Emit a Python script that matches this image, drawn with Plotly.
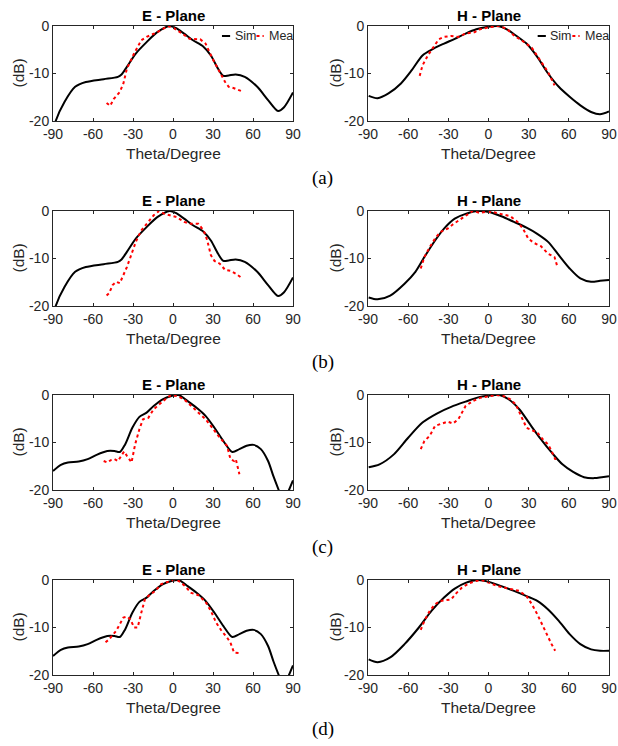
import plotly.graph_objects as go
from plotly.subplots import make_subplots

# ---------------- data ----------------
x_ticks = [-90, -60, -30, 0, 30, 60, 90]
x_tick_text = ["-90", "-60", "-30", "0", "30", "60", "90"]
y_ticks = [-20, -10, 0]
y_tick_text = ["-20", "-10", "0"]
row_labels = ["(a)", "(b)", "(c)", "(d)"]
col_titles = ["E - Plane", "H - Plane"]

# (a) E-plane
theta_sim_e_a = [-90, -88, -81.4, -73.4, -65.4, -52, -41.3, -38.6, -34.6, -27.9, -19.8, -11.8, -2.5, 2,
                 8.3, 15, 23, 28.4, 33.8, 37.8, 41.8, 47, 53.8, 63.2, 71.3, 78.8, 83.3, 90]
sim_e_a = [-22.5, -20, -16, -12.8, -11.8, -11.2, -10.7, -10.2, -8.6, -5.8, -3.4, -1.3, 0, -0.4,
           -1.6, -3.0, -4.4, -6.2, -9.0, -10.5, -10.4, -10.2, -10.7, -12.8, -15.6, -17.9, -17.1, -14.0]
theta_mea_e_a = [-49.8, -47.1, -44.5, -39.9, -37.2, -34.6, -29.2, -23.8, -19.8, -11.8, -3.75, 0.3, 7,
                 12.3, 20.4, 24.4, 29.7, 35.1, 39.1, 41.8, 45.8, 51.2]
mea_e_a = [-16.2, -16.8, -15.4, -13.9, -12.1, -9.0, -5.8, -3.0, -2.3, -1.3, 0, -0.4, -1.6,
           -2.7, -2.8, -3.7, -6.9, -9.7, -11.8, -12.8, -13.1, -13.7]

# (a) H-plane
theta_sim_h_a = [-89.5, -82.8, -74.7, -65.4, -57.3, -49.3, -41.3, -33.2, -25.2, -17.1, -9.1, -1.1, 7,
                 13.7, 20.4, 28.4, 36.4, 44.5, 52.5, 60.6, 68.6, 76.6, 83.3, 90]
sim_h_a = [-14.7, -15.2, -14.2, -12.1, -9.3, -6.2, -4.8, -3.7, -2.7, -1.6, -0.7, -0.2, 0,
           -0.7, -2.0, -3.7, -6.5, -10.0, -12.8, -14.9, -16.7, -18.1, -18.6, -18.0]
theta_mea_h_a = [-51.4, -49.3, -45.3, -41.3, -37.2, -33.2, -27.9, -22.5, -17.1, -10.4, -6.4, 1.6, 8.3,
                 13.7, 19, 25.7, 32.4, 37.8, 44.5, 49.3]
mea_h_a = [-10.5, -8.3, -6.2, -4.4, -2.8, -2.3, -2.1, -2.3, -1.6, -1.3, -0.7, -0.2, 0,
           -0.6, -2.0, -3.2, -4.6, -6.9, -9.7, -12.5]

# (b) E-plane
theta_sim_e_b = theta_sim_e_a
sim_e_b = sim_e_a
theta_mea_e_b = [-49.8, -47.9, -45.3, -42.6, -39.9, -37.2, -34.6, -31.9, -27.9, -23.8, -19.8, -14.5,
                 -10.4, -6.4, -2.4, 2.9, 8.3, 13.7, 19, 23, 25.7, 28.4, 31.1, 35.1, 39.1, 43.1,
                 47.1, 50.6]
mea_e_b = [-17.8, -17.3, -15.6, -14.9, -15.2, -13.5, -11.8, -9.7, -6.5, -4.1, -2.7, -0.9,
           0, -0.6, -0.9, -1.3, -2.3, -2.7, -2.7, -4.1, -6.2, -9.3, -10.5, -11.1, -12.4, -12.6,
           -13.2, -13.9]

# (b) H-plane
theta_sim_h_b = [-89.5, -82.8, -73.4, -62.7, -54.6, -47.9, -39.9, -33.2, -25.2, -17.1, -7.8, 0.3, 9.6,
                 19, 28.4, 36.4, 44.5, 52.5, 60.6, 68.6, 76.6, 83.3, 90]
sim_h_b = [-18.2, -18.6, -17.8, -15.3, -12.8, -9.7, -6.2, -3.7, -1.6, -0.6, 0, -0.2, -1.1,
           -2.3, -3.5, -4.8, -6.5, -9.3, -12.1, -14.2, -14.9, -14.7, -14.5]
theta_mea_h_b = [-50.6, -47.9, -43.9, -39.9, -35.9, -30.5, -26.5, -22.5, -17.1, -11.8, -6.4, -2.4,
                 2.9, 9.6, 16.3, 21.7, 25.7, 29.7, 33.8, 39.1, 44.5, 49.3, 51.1]
mea_h_b = [-12.1, -9.7, -7.6, -5.8, -4.4, -3.7, -2.8, -2.0, -0.9, 0, -0.4, -0.2,
           -0.2, -0.7, -1.1, -2.3, -3.7, -5.8, -6.7, -7.4, -9.0, -9.7, -11.4]

# (c) E-plane
theta_sim_e_c = [-90, -84.1, -78.8, -70.7, -64.0, -57.3, -49.3, -43.9, -39.9, -35.9, -30.5, -25.2,
                 -19.8, -14.5, -7.8, -1.1, 4.3, 11, 17.7, 24.4, 31.1, 37.8, 44.5, 49.8, 55.2, 60.5,
                 65.9, 71.3, 75.3, 79.3, 83, 87, 90]
sim_e_c = [-16.0, -14.7, -14.2, -14.0, -13.5, -12.6, -11.8, -11.8, -12.0, -10.4, -6.9, -4.6,
           -3.7, -2.3, -0.9, -0.2, 0, -1.3, -2.7, -4.4, -6.9, -9.7, -12.0, -11.4, -10.7, -10.5,
           -11.4, -13.9, -17.1, -20.0, -22.5, -20.0, -18.0]
theta_mea_e_c = [-52, -49.3, -46.6, -43.9, -41.3, -38.6, -36.7, -34.6, -31.1, -28.4, -25.2, -22.5,
                 -18.5, -14.5, -9.1, -3.75, -1.1, 2.9, 8.3, 13.7, 19, 24.4, 29.7, 35.1, 40.5, 43.1,
                 45.8, 47.1, 49.8]
mea_e_c = [-13.9, -14.2, -13.7, -13.5, -13.9, -12.8, -11.9, -12.8, -14.2, -10.4, -7.2, -5.1,
           -4.8, -3.0, -1.6, -0.4, 0, -0.2, -0.9, -2.3, -3.5, -5.1, -7.0, -9.0, -10.7, -13.5,
           -13.9, -13.5, -16.7]

# (c) H-plane
theta_sim_h_c = [-89.5, -81.4, -70.7, -60, -49.3, -38.6, -27.9, -17.1, -6.4, 1.6, 8.3, 15, 23, 31.1,
                 39.1, 47.1, 55.2, 63.2, 71.3, 79.3, 84.6, 90]
sim_h_c = [-15.2, -14.6, -12.5, -9.0, -5.8, -3.9, -2.5, -1.4, -0.4, -0.1, 0, -0.9, -3.0, -6.2,
           -9.3, -12.1, -14.6, -16.2, -17.3, -17.5, -17.3, -17.1]
theta_mea_h_c = [-50.6, -47.9, -43.9, -39.9, -34.6, -30.5, -26.5, -22.5, -17.1, -11.8, -6.4, -1.1,
                 5.6, 11, 16.3, 20.4, 24.4, 28.4, 32.4, 36.4, 40.5, 44.5, 47.1, 49.8, 52.5]
mea_h_c = [-11.4, -9.7, -8.6, -6.5, -6.0, -5.6, -6.0, -5.1, -2.3, -1.3, -0.6, -0.4,
           0, -0.2, -0.9, -2.0, -4.4, -6.9, -7.4, -7.9, -9.3, -10.4, -11.8, -13.5, -13.5]

# (d) E-plane
theta_sim_e_d = theta_sim_e_c
sim_e_d = sim_e_c
theta_mea_e_d = [-50.6, -47.9, -45.3, -42.6, -39.9, -37.2, -34.6, -31.9, -29.2, -26.5, -23.8, -21.1,
                 -17.1, -13.1, -9.1, -3.75, 0.3, 4.3, 8.3, 13.7, 19, 24.4, 28.4, 32.4, 36.4, 40.5,
                 43.1, 45.8, 48.5, 50.6]
mea_e_d = [-13.1, -12.5, -11.6, -10.7, -9.3, -7.9, -7.7, -8.3, -10.0, -10.0, -6.9, -4.1,
           -3.0, -2.3, -0.9, -0.4, 0, -0.2, -1.1, -2.7, -3.2, -4.6, -6.5, -9.0, -10.7, -12.1,
           -13.2, -15.3, -15.4, -15.4]

# (d) H-plane
theta_sim_h_d = [-89.5, -82.8, -73.4, -62.7, -52, -42.6, -33.2, -25.2, -17.1, -7.8, 0.3, 9.6, 19,
                 28.4, 36.4, 44.5, 52.5, 60.6, 68.6, 76.6, 83.3, 90]
sim_h_d = [-16.7, -17.3, -16.3, -13.5, -10.0, -6.5, -3.7, -1.8, -0.6, 0, -0.4, -1.3, -2.3,
           -3.4, -4.4, -6.2, -8.6, -11.4, -13.5, -14.6, -14.9, -14.9]
theta_mea_h_d = [-50.6, -47.9, -43.9, -39.9, -35.9, -31.9, -27.9, -23.8, -19.8, -14.5, -9.1, -5.1,
                 0.3, 7, 15, 23, 28.4, 32.4, 36.4, 40.5, 44.5, 47.1, 49.8]
mea_h_d = [-10.5, -8.6, -6.5, -5.1, -4.4, -4.2, -4.1, -2.7, -1.6, -0.7, -0.2, 0,
           -0.6, -1.3, -1.8, -2.3, -3.4, -5.1, -7.2, -9.7, -11.8, -13.5, -14.9]

panels = [
    [(theta_sim_e_a, sim_e_a, theta_mea_e_a, mea_e_a), (theta_sim_h_a, sim_h_a, theta_mea_h_a, mea_h_a)],
    [(theta_sim_e_b, sim_e_b, theta_mea_e_b, mea_e_b), (theta_sim_h_b, sim_h_b, theta_mea_h_b, mea_h_b)],
    [(theta_sim_e_c, sim_e_c, theta_mea_e_c, mea_e_c), (theta_sim_h_c, sim_h_c, theta_mea_h_c, mea_h_c)],
    [(theta_sim_e_d, sim_e_d, theta_mea_e_d, mea_e_d), (theta_sim_h_d, sim_h_d, theta_mea_h_d, mea_h_d)],
]

# ---------------- layout geometry (pixels) ----------------
W, H = 618, 746
col_px = [(53, 293), (368, 609)]
row_px = [(26, 121), (211, 306), (395, 490), (580, 675)]
row_label_y = [178, 362, 547, 729]

FONT = "Liberation Sans, Arial, sans-serif"
AX = "#262626"

fig = make_subplots(rows=4, cols=2)

annotations = []
shapes = []
for r in range(4):
    for c in range(2):
        ts, ys, tm, ym = panels[r][c]
        fig.add_trace(go.Scatter(x=ts, y=ys, mode="lines", name="Sim",
                                 line=dict(color="black", width=2, shape="spline", smoothing=0.8),
                                 showlegend=False), row=r + 1, col=c + 1)
        fig.add_trace(go.Scatter(x=tm, y=ym, mode="lines", name="Mea",
                                 line=dict(color="#ff0000", width=2, dash="dot"),
                                 showlegend=False), row=r + 1, col=c + 1)
        idx = r * 2 + c + 1
        xn = "xaxis" if idx == 1 else f"xaxis{idx}"
        yn = "yaxis" if idx == 1 else f"yaxis{idx}"
        x0, x1 = col_px[c]
        y0, y1 = row_px[r]
        fig.layout[xn].update(domain=[x0 / W, x1 / W])
        fig.layout[yn].update(domain=[1 - y1 / H, 1 - y0 / H])
        xref = "x" if idx == 1 else f"x{idx}"
        yref = "y" if idx == 1 else f"y{idx}"
        annotations.append(dict(text="<b>" + col_titles[c] + "</b>", x=0.5, y=1,
                                xref=f"{xref} domain", yref=f"{yref} domain",
                                xanchor="center", yanchor="middle", yshift=11, showarrow=False,
                                font=dict(family=FONT, size=15, color="black")))
        annotations.append(dict(text="Theta/Degree", x=0.5, y=0,
                                xref=f"{xref} domain", yref=f"{yref} domain",
                                xanchor="center", yanchor="middle", yshift=-32, showarrow=False,
                                font=dict(family=FONT, size=15.5, color=AX)))
        annotations.append(dict(text="(dB)", x=0, y=0.5, textangle=-90,
                                xref=f"{xref} domain", yref=f"{yref} domain",
                                xanchor="center", yanchor="middle",
                                xshift=-35 if c == 0 else -33, showarrow=False,
                                font=dict(family=FONT, size=15.5, color=AX)))
        if r == 0:
            ly = 0.895
            shapes.append(dict(type="line", xref=f"{xref} domain", yref=f"{yref} domain",
                               x0=0.704, x1=0.738, y0=ly, y1=ly,
                               line=dict(color="black", width=2)))
            shapes.append(dict(type="line", xref=f"{xref} domain", yref=f"{yref} domain",
                               x0=0.848, x1=0.878, y0=ly, y1=ly,
                               line=dict(color="#ff0000", width=2, dash="dot")))
            annotations.append(dict(text="Sim", x=0.748, y=ly, xref=f"{xref} domain",
                                    yref=f"{yref} domain", xanchor="left", yanchor="middle",
                                    showarrow=False, font=dict(family=FONT, size=12.5, color=AX)))
            annotations.append(dict(text="Mea", x=0.892, y=ly, xref=f"{xref} domain",
                                    yref=f"{yref} domain", xanchor="left", yanchor="middle",
                                    showarrow=False, font=dict(family=FONT, size=12.5, color=AX)))

for r in range(4):
    annotations.append(dict(text=row_labels[r], x=323 / W, y=1 - row_label_y[r] / H,
                            xref="paper", yref="paper", xanchor="center", yanchor="middle",
                            showarrow=False,
                            font=dict(family="Liberation Serif, Times New Roman, serif", size=19,
                                      color="black")))

fig.update_xaxes(range=[-90, 90], tickvals=x_ticks, ticktext=x_tick_text, ticks="inside",
                 ticklen=3, tickcolor=AX, showline=True, linecolor=AX, linewidth=1, mirror="ticks",
                 showgrid=False, zeroline=False, automargin=False,
                 tickfont=dict(family=FONT, size=14, color=AX))
fig.update_yaxes(range=[-20, 0], tickvals=y_ticks, ticktext=y_tick_text, ticks="inside",
                 ticklen=3, tickcolor=AX, showline=True, linecolor=AX, linewidth=1, mirror="ticks",
                 showgrid=False, zeroline=False, automargin=False,
                 tickfont=dict(family=FONT, size=14, color=AX))

fig.update_layout(width=W, height=H, autosize=False, margin=dict(l=0, r=0, t=0, b=0, pad=0),
                  paper_bgcolor="white", plot_bgcolor="white", showlegend=False,
                  annotations=annotations, shapes=shapes)

fig.write_html("out.html")
